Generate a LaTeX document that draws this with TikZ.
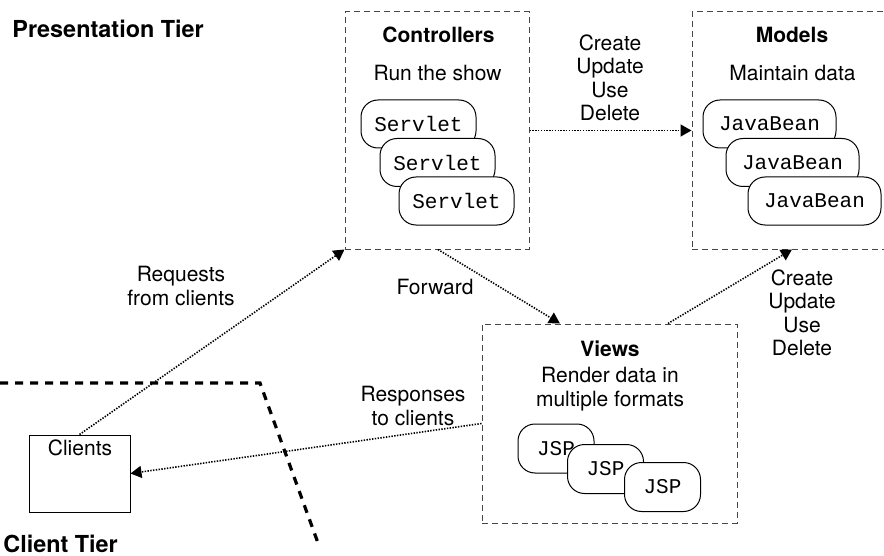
\documentclass[tikz,border=0pt]{standalone}
\usepackage{fontspec}
\setmainfont{TeX Gyre Heros}
\setmonofont{Liberation Mono}
\usetikzlibrary{arrows.meta,positioning,calc}
\definecolor{boxgrey}{RGB}{70,70,70}
\tikzset{
  tierbox/.style={draw=boxgrey,dash pattern=on 3pt off 2pt,line width=.5pt,
                  inner sep=0pt},
  title/.style={font=\fontsize{10.5}{12}\selectfont\bfseries,inner sep=0pt},
  tiertitle/.style={title,font=\fontsize{11.7}{13}\selectfont\bfseries,anchor=west},
  caption/.style={font=\fontsize{10.5}{11.7}\selectfont,align=center,inner sep=0pt},
  pill/.style={draw,fill=white,rounded corners=8.5pt,line width=.5pt,inner sep=0pt,
               minimum height=24pt,font=\fontsize{10.5}{12}\selectfont\ttfamily},
  servlet/.style={pill,minimum width=57.5pt},
  bean/.style={pill,minimum width=66.5pt},
  jsp/.style={pill,minimum width=38pt,minimum height=24.5pt},
  flow/.style={-{Triangle[length=5.5pt,width=6pt]},line width=.8pt,
               dash pattern=on .7pt off .7pt},
  tierline/.style={line width=1.6pt,dash pattern=on 4pt off 3.5pt},
}

\begin{document}
\begin{tikzpicture}[x=.5pt,y=-.5pt]
  \useasboundingbox (0,0) rectangle (884,556);
  \node[tiertitle] (ptier) at (12,29) {Presentation Tier};
  \node[tiertitle] (ctier) at (3,544) {Client Tier};
  \draw[tierline] (0,383) -- (260,383) -- (318,543);
  % boxes of the presentation tier
  \node[tierbox,minimum width=92pt,minimum height=118.5pt] (ctrl) at (437,130.5) {};
  \node[tierbox,minimum width=96pt,minimum height=118.5pt] (models) at (788,130.5) {};
  \node[tierbox,minimum width=127.5pt,minimum height=99.5pt] (views) at (609.5,423.5) {};
  \node[draw,line width=.5pt,minimum width=50.5pt,minimum height=38.5pt] (clients) at (79.5,473.5) {};
  \node[caption] (clientstxt) at (80,448) {Clients};
  \node[title] (ctrltitle) at (438.5,35) {Controllers};
  \node[caption] (ctrltxt) at (437.5,73) {Run the show};
  \node[title] (modeltitle) at (792,35) {Models};
  \node[caption] (modeltxt) at (792.5,73) {Maintain data};
  \node[title] (viewtitle) at (610,349) {Views};
  \node[caption] (viewtxt) at (610,389) {Render data in\\multiple formats};
  \foreach \k/\px/\py in {1/418.5/124,2/437.5/162.5,3/456.5/201}{
    \node[servlet] (srv\k) at (\px,\py) {Servlet};}
  \foreach \k/\px/\py in {1/769.5/124,2/792.5/162.5,3/814.5/201}{
    \node[bean] (bean\k) at (\px,\py) {JavaBean};}
  \foreach \k/\px/\py in {1/556/448.5,2/605.5/469,3/662.5/487}{
    \node[jsp] (jsp\k) at (\px,\py) {JSP};}
  % connectors
  \draw[flow] (clients.north) -- (ctrl.south west);
  \draw[flow] (ctrl.east) -- (models.west);
  \draw[flow] ([xshift=.5pt]ctrl.south) -- ([xshift=-24.75pt]views.north);
  \draw[flow] ([xshift=29.25pt]views.north) -- ([xshift=2pt]models.south);
  \draw[flow] (views.west) -- (clients.east);
  \node[caption] (crud1) at (610,78) {Create\\Update\\Use\\Delete};
  \node[caption] (crud2) at (802,313) {Create\\Update\\Use\\Delete};
  \node[caption] (reqtxt) at (181,286) {Requests\\from clients};
  \node[caption] (fwdtxt) at (435,287) {Forward};
  \node[caption] (resptxt) at (413,406) {Responses\\to clients};
\end{tikzpicture}
\end{document}
